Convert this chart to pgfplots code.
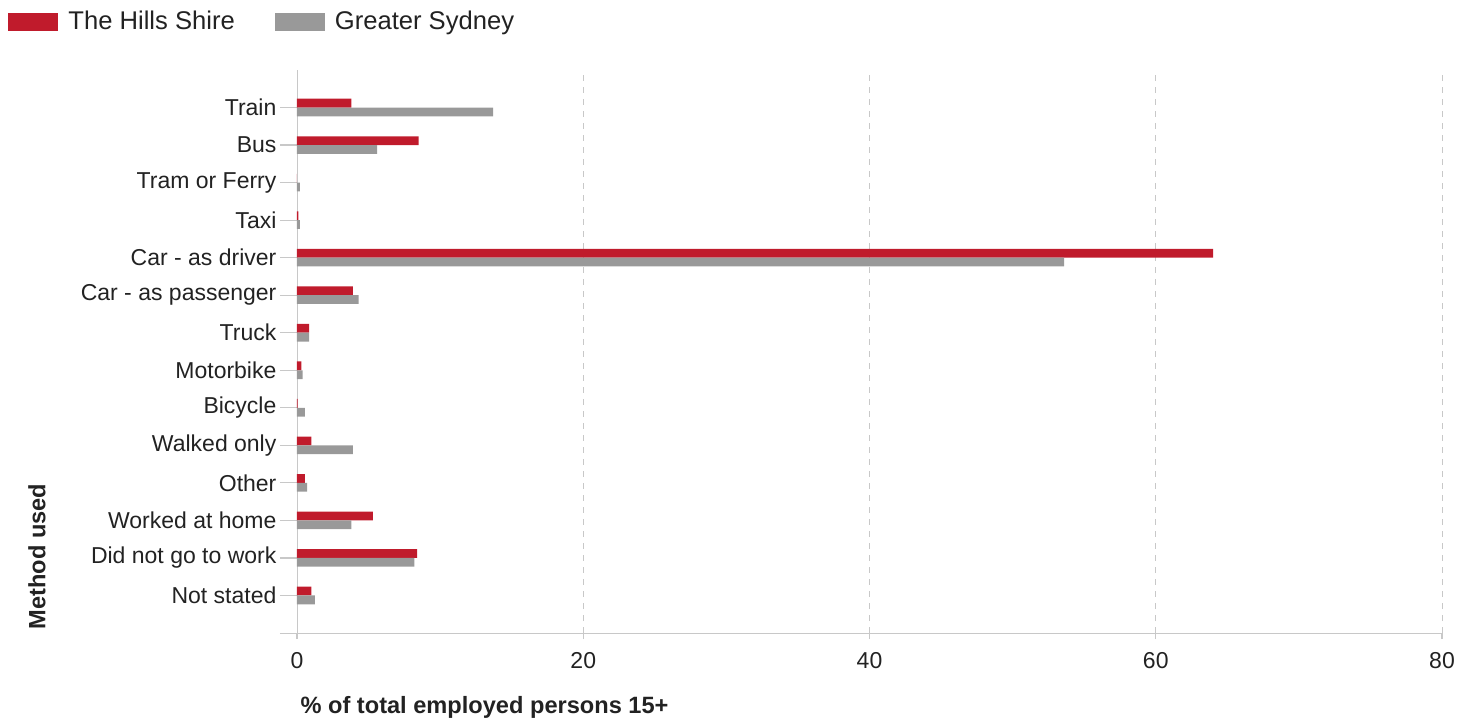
\documentclass[border=0pt]{standalone}
\usepackage{fontspec}
\setmainfont{Liberation Sans}
\usepackage{pgfplots}
\pgfplotsset{compat=1.18}
\usetikzlibrary{calc}
\definecolor{hills}{HTML}{C01B2C}
\definecolor{syd}{HTML}{999999}
\definecolor{axgray}{HTML}{C8C8C8}
\definecolor{txt}{HTML}{222222}
\begin{document}
\begin{tikzpicture}
\begin{axis}[
  name=ax,
  scale only axis,
  width=572.5pt, height=281.5pt,
  xbar, bar width=4.4pt,
  xmin=0, xmax=80, ymin=-1, ymax=14,
  xtick={0,20,40,60,80},
  ytick={0,...,13},
  yticklabels={Not stated,Did not go to work,Worked at home,Other,Walked only,Bicycle,Motorbike,Truck,Car - as passenger,Car - as driver,Taxi,Tram or Ferry,Bus,Train},
  axis x line*=bottom, axis y line*=left,
  axis line style={axgray,-},
  x axis line style={shorten <=-8.5pt},
  xmajorgrids, grid style={axgray,dashed},
  tick style={axgray, line width=0.6pt},
  ytick style={/pgfplots/major tick length=8.5pt},
  xtick style={/pgfplots/major tick length=3pt},
  tick align=outside,
  /pgf/number format/assume math mode=true,
  ticklabel style={font=\fontsize{11.5}{13}\selectfont, text=txt},
  xticklabel style={yshift=-2pt},
  yticklabel style={xshift=-2.5pt},
  xlabel={\textbf{\% of total employed persons 15+}},
  ylabel={\textbf{Method used}},
  label style={font=\fontsize{11.8}{13}\selectfont, text=txt},
  xlabel style={at={(axis description cs:-0.003,-0.1314)}, anchor=west},
  ylabel style={at={(axis description cs:-0.2271,-0.006)}, anchor=west},
  legend columns=2,
  legend style={at={(axis description cs:0,1)}, anchor=north west, xshift=-144.5pt, yshift=31.5pt,
    draw=none, fill=none, inner sep=0pt, font=\fontsize{12.8}{14}\selectfont, text=txt,
    /tikz/every even column/.append style={column sep=18pt},
    /tikz/every odd column/.append style={column sep=3pt}},
]
\addplot[fill=hills, draw=none, bar shift=2.2pt,
  legend image code/.code={\fill[hills] (0pt,-4.5pt) rectangle (25pt,4.5pt);}]
  coordinates {(1.0,0) (8.4,1) (5.3,2) (0.55,3) (1.0,4) (0.05,5) (0.3,6) (0.85,7) (3.9,8) (64.0,9) (0.1,10) (0.0,11) (8.5,12) (3.8,13)};
\addlegendentry{The Hills Shire}
\addplot[fill=syd, draw=none, bar shift=-2.2pt,
  legend image code/.code={\fill[syd] (0pt,-4.5pt) rectangle (25pt,4.5pt);}]
  coordinates {(1.25,0) (8.2,1) (3.8,2) (0.7,3) (3.9,4) (0.55,5) (0.4,6) (0.85,7) (4.3,8) (53.6,9) (0.2,10) (0.2,11) (5.6,12) (13.7,13)};
\addlegendentry{Greater Sydney}
\end{axis}
\pgfresetboundingbox
\path ($(ax.south west)+(-148.5pt,-46.5pt)$) rectangle ($(ax.north east)+(16pt,35pt)$);
\end{tikzpicture}
\end{document}
